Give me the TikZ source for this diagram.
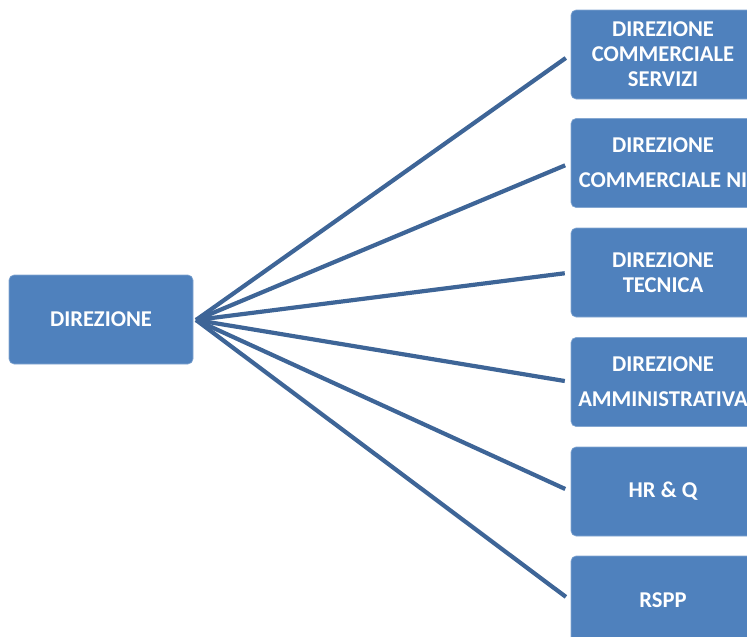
\documentclass[tikz,border=0pt]{standalone}
\usepackage{fontspec}
\setmainfont{Carlito}
\definecolor{boxblue}{HTML}{4F81BD}
\definecolor{lineblue}{HTML}{3E6597}
\begin{document}
\begin{tikzpicture}[x=1pt,y=-1pt,
  box/.style={fill=boxblue, draw=boxblue!70!white, line width=0.6pt, rounded corners=5pt,
    minimum width=184pt, minimum height=89pt, inner sep=1pt, align=center,
    text=white, font=\fontsize{22.6}{25}\selectfont\bfseries},
  link/.style={draw=lineblue, line width=4.2pt, shorten >=6pt}]
\useasboundingbox (0,0) rectangle (747,637);
\node[box] (d) at (101,319.5) {DIREZIONE};
\node[box] (b1) at (663,54.5) {DIREZIONE\\COMMERCIALE\\SERVIZI};
\node[box] (b2) at (663,163) {DIREZIONE\\[10pt]COMMERCIALE NI};
\node[box] (b3) at (663,272.5) {DIREZIONE\\TECNICA};
\node[box] (b4) at (663,382) {DIREZIONE\\[10pt]AMMINISTRATIVA};
\node[box] (b5) at (663,491.5) {HR \& Q};
\node[box] (b6) at (663,600.5) {RSPP};
\coordinate (hub) at (196,320);
\foreach \b in {b1,b2,b3,b4,b5,b6}
  \draw[link] (hub) -- (\b.west);
\end{tikzpicture}
\end{document}
